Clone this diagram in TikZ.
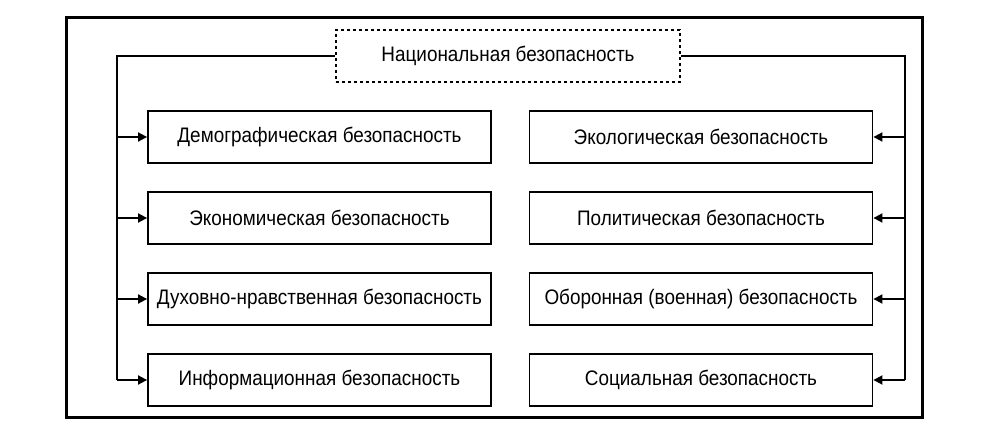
\documentclass[tikz,border=0pt]{standalone}
\usepackage{fontspec}
\setmainfont[FakeStretch=0.9]{Liberation Sans}
\usetikzlibrary{arrows.meta}
\begin{document}
\begin{tikzpicture}[x=1pt,y=-1pt,
  box/.style={draw,line width=1.8pt,minimum width=343pt,minimum height=52pt,font=\fontsize{21}{24}\selectfont,inner sep=0pt},
  arr/.style={line width=1.8pt,-{Triangle[length=9pt,width=9pt]}}]
\useasboundingbox (0,0) rectangle (990,430);
\draw[line width=3pt] (66,18) rectangle (922,417);
\node[draw,dashed,line width=1.8pt,minimum width=344pt,minimum height=52pt,font=\fontsize{21}{24}\selectfont] (top) at (508,56) {Национальная безопасность};
\node[box] (l1) at (319.5,137) {Демографическая  безопасность};
\node[box] (l2) at (319.5,218) {Экономическая безопасность};
\node[box] (l3) at (319.5,299) {Духовно-нравственная безопасность};
\node[box] (l4) at (319.5,380) {Информационная безопасность};
\node[box] (r1) at (701,137) {Экологическая безопасность};
\node[box] (r2) at (701,218) {Политическая безопасность};
\node[box] (r3) at (701,299) {Оборонная (военная) безопасность};
\node[box] (r4) at (701,380) {Социальная безопасность};
\coordinate (lt) at (117,56);
\coordinate (rt) at (905,56);
\draw[line width=1.8pt] (top.west) -- (lt) -- (lt |- l4.west);
\draw[line width=1.8pt] (top.east) -- (rt) -- (rt |- r4.east);
\foreach \i in {1,2,3,4}{
  \draw[arr] (lt |- l\i.west) -- (l\i.west);
  \draw[arr] (rt |- r\i.east) -- (r\i.east);
}
\end{tikzpicture}
\end{document}
